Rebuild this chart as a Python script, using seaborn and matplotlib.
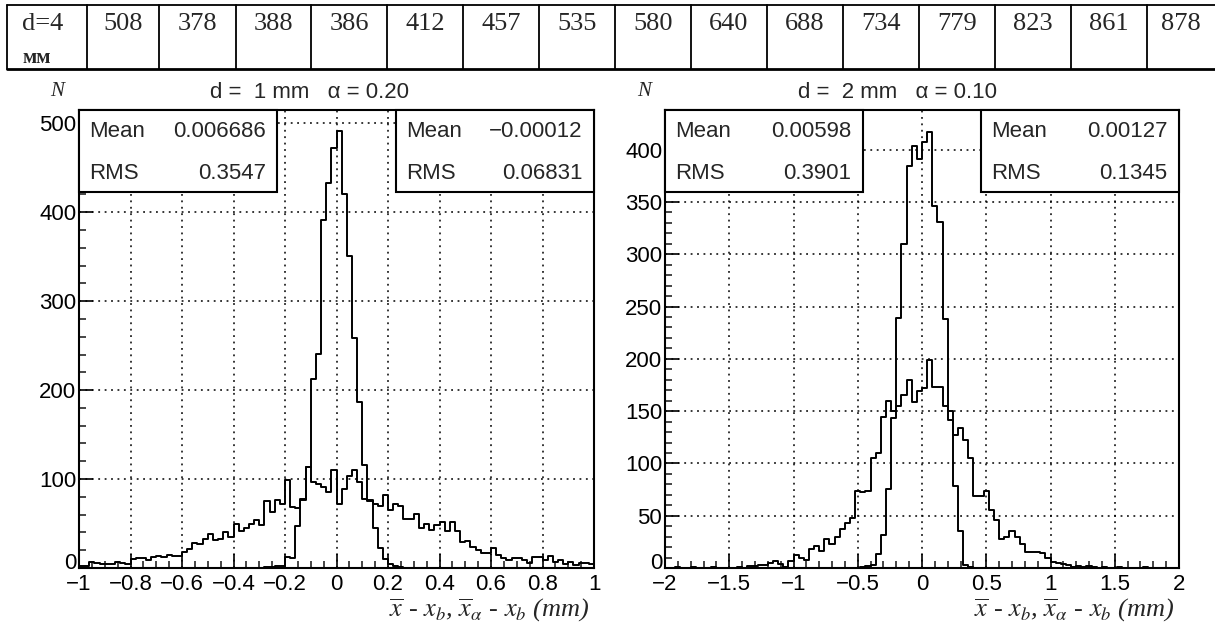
import numpy as np
import pandas as pd
import seaborn as sns
import matplotlib.pyplot as plt
from matplotlib.patches import Rectangle
from matplotlib.ticker import MultipleLocator
from matplotlib.transforms import ScaledTranslation

# table row above the plots
table_head = ["d=4", "мм"]
table_vals = [508, 378, 388, 386, 412, 457, 535, 580, 640, 688, 734, 779, 823, 861, 878]

# left pad: d = 1 mm, 100 bins on [-1, 1]
left_wide = [2, 2, 7, 6, 5, 5, 4, 7, 6, 5,
             10, 11, 11, 9, 12, 13, 12, 15, 14, 14,
             18, 21, 28, 27, 33, 38, 31, 33, 40, 35,
             50, 42, 45, 49, 54, 48, 75, 63, 76, 72,
             99, 69, 68, 77, 114, 97, 95, 91, 86, 110,
             72, 89, 103, 110, 97, 78, 77, 72, 70, 82,
             65, 72, 70, 55, 55, 61, 45, 50, 43, 48,
             52, 42, 52, 42, 29, 30, 24, 20, 17, 17,
             22, 15, 11, 9, 11, 11, 9, 6, 12, 12,
             9, 13, 7, 9, 4, 7, 3, 6, 6, 5]
left_narrow = [0] * 36 + [1, 1, 2, 2, 12, 11, 47, 78, 114, 213, 241, 391, 433, 472,
                          491, 420, 351, 259, 187, 116, 75, 45, 22, 10, 5, 2, 1] + [0] * 37

# right pad: d = 2 mm, 100 bins on [-2, 2]
right_wide = [0, 0, 1, 0, 0, 1, 0, 0, 0, 1, 0, 0, 0, 0, 1, 0,
              2, 2, 3, 3, 5, 7, 4, 1, 7,
              12, 10, 8, 18, 21, 16, 28, 23, 30, 37, 43, 48,
              74, 73, 74,
              105, 110, 144, 160, 150, 155, 165, 180, 159, 169,
              172, 199, 173, 173, 155, 142, 127, 134, 122, 105,
              69, 69, 74, 55, 46, 28, 30, 35, 30, 23, 15, 15, 15, 14, 10, 6, 5, 4, 3, 1, 2, 1, 2,
              1, 0, 1, 0, 0, 1, 0, 0, 0, 0, 1, 0, 0, 0, 0, 0, 0]
right_narrow = [0] * 38 + [1, 2, 3, 13, 32, 76, 143, 239, 310, 384, 404, 391, 407, 417,
                          346, 331, 238, 150, 78, 35, 3, 1] + [0] * 40

left_title = "d =  1 mm   \u03b1 = 0.20"
right_title = "d =  2 mm   \u03b1 = 0.10"
left_stats = [("0.006686", "0.3547"), ("\u22120.00012", "0.06831")]
right_stats = [("0.00598", "0.3901"), ("0.00127", "0.1345")]

left_xticks = [-1, -0.8, -0.6, -0.4, -0.2, 0, 0.2, 0.4, 0.6, 0.8, 1]
left_xlabels = ["\u22121", "\u22120.8", "\u22120.6", "\u22120.4", "\u22120.2", "0",
                "0.2", "0.4", "0.6", "0.8", "1"]
left_yticks = [0, 100, 200, 300, 400, 500]
right_xticks = [-2, -1.5, -1, -0.5, 0, 0.5, 1, 1.5, 2]
right_xlabels = ["\u22122", "\u22121.5", "\u22121", "\u22120.5", "0", "0.5", "1", "1.5", "2"]
right_yticks = [0, 50, 100, 150, 200, 250, 300, 350, 400]

xlabel = r"$\overline{x}$ - $x_{b}$, $\overline{x}_{\alpha}$ - $x_{b}$ (mm)"

sns.set_style("white")
plt.rcParams['font.family'] = ['Liberation Sans', 'DejaVu Sans']
plt.rcParams['mathtext.fontset'] = 'stix'

W, H = 1215, 628
fig = plt.figure(figsize=(W / 100, H / 100), dpi=100)
fig.patch.set_facecolor("white")


def draw_hist(ax, counts, lo, hi):
    nb = len(counts)
    width = (hi - lo) / nb
    centers = lo + width * (np.arange(nb) + 0.5)
    df = pd.DataFrame({"x": centers, "n": counts})
    sns.histplot(data=df, x="x", weights="n", bins=nb, binrange=(lo, hi), element="step",
                 fill=False, color="black", linewidth=1.4, ax=ax, zorder=3)


def setup_pad(ax, wide, narrow, lo, hi, ymax, xt, xl, yt, xminor, yminor, stats):
    draw_hist(ax, wide, lo, hi)
    draw_hist(ax, narrow, lo, hi)
    ax.set_xlim(lo, hi)
    ax.set_ylim(0, ymax)
    ax.set_xlabel("")
    ax.set_ylabel("")
    ax.set_xticks(xt, xl)
    ax.set_yticks(yt)
    ax.xaxis.set_minor_locator(MultipleLocator(xminor))
    ax.yaxis.set_minor_locator(MultipleLocator(yminor))
    ax.tick_params(which="major", direction="in", length=10, width=1.2,
                   labelsize=16, pad=4, colors="black")
    ax.tick_params(axis="y", which="major", pad=2)
    ax.tick_params(which="minor", direction="in", length=5, width=1.2)
    ax.tick_params(which="both", top=False, right=False, bottom=True, left=True)
    # ROOT lifts the "0" label off the corner
    zero = ax.get_yticklabels()[0]
    zero.set_transform(zero.get_transform() + ScaledTranslation(0, 0.07, fig.dpi_scale_trans))
    for s in ax.spines.values():
        s.set_visible(True)
        s.set_color("black")
        s.set_linewidth(1.5)
    ax.set_axisbelow(True)
    ax.grid(True, which="major", color="black", linewidth=1.1, linestyle=(0, (1.2, 3)))

    # stat boxes
    for bx, (mean, rms) in zip([0.0, 0.615], stats):
        ax.add_patch(Rectangle((bx, 0.822), 0.385, 0.178, transform=ax.transAxes,
                               facecolor="white", edgecolor="black", lw=1.5,
                               zorder=5, clip_on=False))
        ax.text(bx + 0.02, 0.952, "Mean", transform=ax.transAxes, fontsize=16,
                ha="left", va="center", zorder=6)
        ax.text(bx + 0.363, 0.952, mean, transform=ax.transAxes, fontsize=16,
                ha="right", va="center", zorder=6)
        ax.text(bx + 0.02, 0.862, "RMS", transform=ax.transAxes, fontsize=16,
                ha="left", va="center", zorder=6)
        ax.text(bx + 0.363, 0.862, rms, transform=ax.transAxes, fontsize=16,
                ha="right", va="center", zorder=6)

    ax.text(0.992, -0.106, xlabel, transform=ax.transAxes, ha="right", va="baseline",
            fontsize=19, family="Liberation Serif", style="italic")


ax1 = fig.add_axes([79 / W, 60 / H, 515 / W, 458 / H])
setup_pad(ax1, left_wide, left_narrow, -1, 1, 515, left_xticks, left_xlabels,
          left_yticks, 0.05, 20, left_stats)
ax2 = fig.add_axes([665 / W, 60 / H, 514 / W, 458 / H])
setup_pad(ax2, right_wide, right_narrow, -2, 2, 438, right_xticks, right_xlabels,
          right_yticks, 0.1, 10, right_stats)

fig.text(309 / W, 1 - 92 / H, left_title, ha="center", va="center", fontsize=16)
fig.text(897 / W, 1 - 92 / H, right_title, ha="center", va="center", fontsize=16)
fig.text(57 / W, 1 - 91 / H, "N", ha="center", va="center", fontsize=15,
         family="Liberation Serif", style="italic")
fig.text(644 / W, 1 - 91 / H, "N", ha="center", va="center", fontsize=15,
         family="Liberation Serif", style="italic")

# table row
tab = fig.add_axes([0, 1 - 80 / H, 1, 80 / H])
tab.set_xlim(0, W)
tab.set_ylim(80, 0)
tab.axis("off")
top_y, bot_y = 5, 69
cell_x = [7, 87, 159, 236, 311, 387, 463, 539, 615, 691, 767, 843, 919, 995, 1071, 1147, 1215]
tab.plot([7, W], [top_y, top_y], color="black", lw=1.3)
tab.plot([7, W], [bot_y, bot_y], color="black", lw=2.0)
for cx in cell_x[:-1]:
    tab.plot([cx, cx], [top_y, bot_y], color="black", lw=1.3)
tab.text(22, 24, table_head[0], ha="left", va="center", fontsize=19, family="Liberation Serif")
tab.text(22, 58, table_head[1], ha="left", va="center", fontsize=15, family="Liberation Serif",
         weight="bold")
for k, v in enumerate(table_vals):
    tab.text((cell_x[k + 1] + cell_x[k + 2]) / 2, 24, str(v), ha="center", va="center",
             fontsize=19, family="Liberation Serif")

fig.savefig("out.png", dpi=100)
